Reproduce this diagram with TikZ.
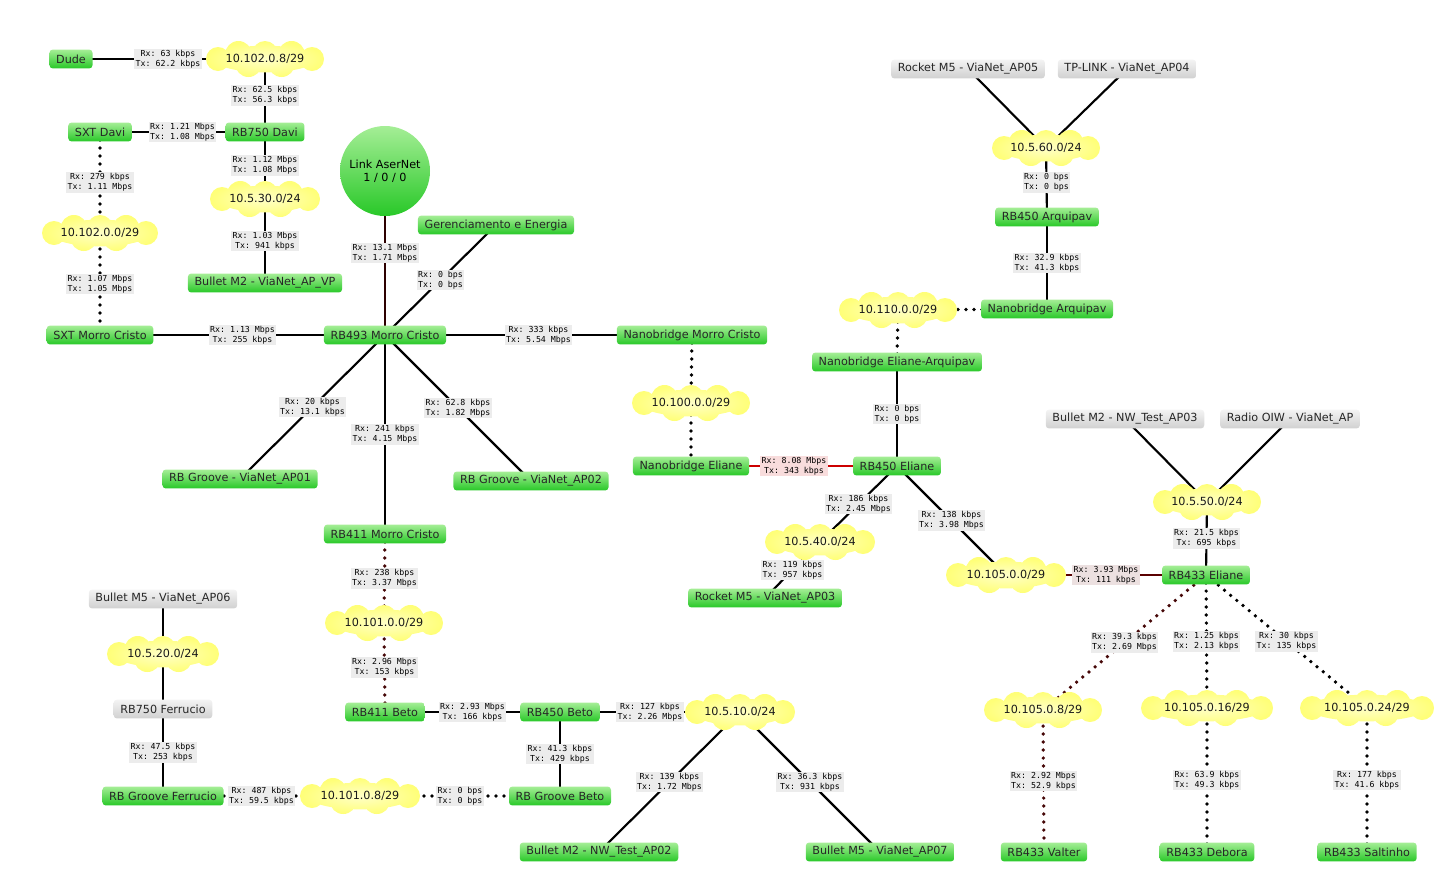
\documentclass[tikz,border=0pt]{standalone}
\usepackage{fontspec}
\setmainfont{DejaVu Sans}
\setmonofont{DejaVu Sans Mono}
\usetikzlibrary{backgrounds}

\definecolor{devtop}{RGB}{165,238,150}
\definecolor{devbot}{RGB}{40,200,40}
\definecolor{offtop}{RGB}{244,244,244}
\definecolor{offbot}{RGB}{208,208,208}
\definecolor{netin}{RGB}{255,255,200}
\definecolor{netout}{RGB}{255,255,120}
\definecolor{bwfill}{RGB}{236,236,236}
\definecolor{bwred}{RGB}{248,220,220}
\definecolor{bwdark}{RGB}{236,224,224}
\definecolor{hotred}{RGB}{204,0,0}
\definecolor{darkred}{RGB}{90,0,0}
\definecolor{brownish}{RGB}{70,8,8}
\definecolor{upl}{RGB}{45,0,0}

\newcommand\devfont{\fontsize{8.4}{10}\selectfont}
\newcommand\bwfont{\ttfamily\fontsize{6.2}{7.5}\selectfont}

% #1 name, #2 centre, #3 half width in px, #4 text
\newcommand\netnode[4]{%
  \pgfmathsetlengthmacro\netrad{0.75pt*#3}%
  \shade[inner color=netin,outer color=netout,shift={(#2)}]
    (0pt,0pt) ellipse[x radius=\netrad-6pt,y radius=10pt]
    ({-\netrad+9pt},0pt) circle[radius=9pt]
    ({\netrad-9pt},0pt) circle[radius=9pt]
    ({-0.45*\netrad},3.5pt) circle[radius=10pt]
    (0pt,4pt) circle[radius=9.5pt]
    ({0.45*\netrad},3.5pt) circle[radius=10pt]
    ({-0.28*\netrad},-3.5pt) circle[radius=10pt]
    ({0.28*\netrad},-3.5pt) circle[radius=10pt];
  \node[net] (#1) at (#2) {#4};}

\tikzset{
  dev/.style={rectangle,rounded corners=2.5pt,top color=devtop,bottom color=devbot,minimum height=14.2pt,inner xsep=5pt,inner ysep=0pt,text=black!85},
  devoff/.style={dev,top color=offtop,bottom color=offbot},
  net/.style={inner sep=2pt,text=black!90},
  bw/.style={fill=bwfill,text=black,font=\bwfont,align=center,inner xsep=1pt,inner ysep=0.8pt},
  wire/.style={line width=1.6pt},
  wlan/.style={line width=2.8pt,line cap=round,dash pattern=on 0pt off 6pt}
}

\begin{document}
\begin{tikzpicture}[x=0.75pt,y=-0.75pt,every node/.style={font=\devfont}]
  \useasboundingbox (0,0) rectangle (1437,868);

  \node[dev] (dude) at (71,59) {Dude};
  \netnode{n10208}{265,59}{59}{10.102.0.8/29}
  \node[dev] (rb750davi) at (265,132) {RB750 Davi};
  \node[dev] (sxtdavi) at (100,132) {SXT Davi};
  \netnode{n5300}{265,199}{55}{10.5.30.0/24}
  \node[dev] (bulletvp) at (265,283) {Bullet M2 - ViaNet\_AP\_VP};
  \netnode{n10200}{100,233}{58}{10.102.0.0/29}
  \node[dev] (sxtmc) at (100,335) {SXT Morro Cristo};

  \node[circle,minimum size=67.5pt,inner sep=0pt,align=center,top color=devtop,bottom color=devbot] (aser) at (385,171) {Link AserNet\\1 / 0 / 0};
  \node[dev] (rb493) at (385,335) {RB493 Morro Cristo};
  \node[dev] (gerenc) at (496,225) {Gerenciamento e Energia};
  \node[dev] (nbmc) at (692,335) {Nanobridge Morro Cristo};
  \node[dev] (ap01) at (240,479) {RB Groove - ViaNet\_AP01};
  \node[dev] (ap02) at (531,481) {RB Groove - ViaNet\_AP02};
  \node[dev] (rb411mc) at (385,534) {RB411 Morro Cristo};
  \netnode{n10100}{384,623}{59}{10.101.0.0/29}
  \node[dev] (rb411beto) at (385,712) {RB411 Beto};
  \node[dev] (rb450beto) at (560,712) {RB450 Beto};
  \netnode{n51010}{740,712}{55}{10.5.10.0/24}
  \node[dev] (groovebeto) at (560,796) {RB Groove Beto};
  \netnode{n10108}{360,796}{60}{10.101.0.8/29}
  \node[dev] (grooveferr) at (163,796) {RB Groove Ferrucio};
  \node[devoff] (rb750ferr) at (163,709) {RB750 Ferrucio};
  \netnode{n5200}{163,654}{56}{10.5.20.0/24}
  \node[devoff] (ap06) at (163,599) {Bullet M5 - ViaNet\_AP06};
  \node[dev] (ap02nw) at (599,852) {Bullet M2 - NW\_Test\_AP02};
  \node[dev] (ap07) at (880,852) {Bullet M5 - ViaNet\_AP07};

  \netnode{n10000}{691,403}{59}{10.100.0.0/29}
  \node[dev] (nbeliane) at (691,466) {Nanobridge Eliane};
  \node[dev] (rb450el) at (897,466) {RB450 Eliane};
  \node[dev] (nbea) at (897,362) {Nanobridge Eliane-Arquipav};
  \netnode{n11000}{898,310}{59}{10.110.0.0/29}
  \node[dev] (nbarq) at (1047,309) {Nanobridge Arquipav};
  \node[dev] (rb450arq) at (1047,217) {RB450 Arquipav};
  \netnode{n5600}{1046,148}{54}{10.5.60.0/24}
  \node[devoff] (ap05) at (968,69) {Rocket M5 - ViaNet\_AP05};
  \node[devoff] (ap04) at (1127,69) {TP-LINK - ViaNet\_AP04};
  \netnode{n5400}{820,542}{55}{10.5.40.0/24}
  \node[dev] (ap03) at (765,598) {Rocket M5 - ViaNet\_AP03};
  \netnode{n10500}{1006,575}{60}{10.105.0.0/29}

  \node[dev] (rb433el) at (1206,575) {RB433 Eliane};
  \netnode{n5500}{1207,502}{54}{10.5.50.0/24}
  \node[devoff] (ap03nw) at (1125,419) {Bullet M2 - NW\_Test\_AP03};
  \node[devoff] (radio) at (1290,419) {Radio OIW - ViaNet\_AP};
  \netnode{n10508}{1043,710}{59}{10.105.0.8/29}
  \netnode{n10516}{1207,708}{66}{10.105.0.16/29}
  \netnode{n10524}{1367,708}{67}{10.105.0.24/29}
  \node[dev] (valter) at (1044,852) {RB433 Valter};
  \node[dev] (debora) at (1207,852) {RB433 Debora};
  \node[dev] (saltinho) at (1367,852) {RB433 Saltinho};

  \begin{scope}[on background layer]
    \draw[wire] (dude.center) -- node[bw] {Rx: 63 kbps\\Tx: 62.2 kbps} (n10208.center);
    \draw[wire] (n10208.center) -- node[bw] {Rx: 62.5 kbps\\Tx: 56.3 kbps} (rb750davi.center);
    \draw[wire] (sxtdavi.center) -- node[bw] {Rx: 1.21 Mbps\\Tx: 1.08 Mbps} (rb750davi.center);
    \draw[wire] (rb750davi.center) -- node[bw] {Rx: 1.12 Mbps\\Tx: 1.08 Mbps} (n5300.center);
    \draw[wire] (n5300.center) -- node[bw] {Rx: 1.03 Mbps\\Tx: 941 kbps} (bulletvp.center);
    \draw[wlan] (sxtdavi.center) -- node[bw] {Rx: 279 kbps\\Tx: 1.11 Mbps} (n10200.center);
    \draw[wlan] (n10200.center) -- node[bw] {Rx: 1.07 Mbps\\Tx: 1.05 Mbps} (sxtmc.center);
    \draw[wire] (sxtmc.center) -- node[bw] {Rx: 1.13 Mbps\\Tx: 255 kbps} (rb493.center);

    \draw[wire,upl] (aser.center) -- node[bw] {Rx: 13.1 Mbps\\Tx: 1.71 Mbps} (rb493.center);
    \draw[wire] (rb493.center) -- node[bw] {Rx: 0 bps\\Tx: 0 bps} (gerenc.center);
    \draw[wire] (rb493.center) -- node[bw] {Rx: 333 kbps\\Tx: 5.54 Mbps} (nbmc.center);
    \draw[wire] (rb493.center) -- node[bw] {Rx: 20 kbps\\Tx: 13.1 kbps} (ap01.center);
    \draw[wire] (rb493.center) -- node[bw] {Rx: 241 kbps\\Tx: 4.15 Mbps} (rb411mc.center);
    \draw[wire] (rb493.center) -- node[bw] {Rx: 62.8 kbps\\Tx: 1.82 Mbps} (ap02.center);
    \draw[wlan,brownish] (rb411mc.center) -- node[bw] {Rx: 238 kbps\\Tx: 3.37 Mbps} (n10100.center);
    \draw[wlan,brownish] (n10100.center) -- node[bw] {Rx: 2.96 Mbps\\Tx: 153 kbps} (rb411beto.center);
    \draw[wire] (rb411beto.center) -- node[bw] {Rx: 2.93 Mbps\\Tx: 166 kbps} (rb450beto.center);
    \draw[wire] (rb450beto.center) -- node[bw] {Rx: 127 kbps\\Tx: 2.26 Mbps} (n51010.center);
    \draw[wire] (rb450beto.center) -- node[bw] {Rx: 41.3 kbps\\Tx: 429 kbps} (groovebeto.center);
    \draw[wlan] (groovebeto.center) -- node[bw] {Rx: 0 bps\\Tx: 0 bps} (n10108.center);
    \draw[wlan] (n10108.center) -- node[bw] {Rx: 487 kbps\\Tx: 59.5 kbps} (grooveferr.center);
    \draw[wire] (rb750ferr.center) -- node[bw] {Rx: 47.5 kbps\\Tx: 253 kbps} (grooveferr.center);
    \draw[wire] (ap06.center) -- (n5200.center) -- (rb750ferr.center);
    \draw[wire] (n51010.center) -- node[bw] {Rx: 139 kbps\\Tx: 1.72 Mbps} (ap02nw.center);
    \draw[wire] (n51010.center) -- node[bw] {Rx: 36.3 kbps\\Tx: 931 kbps} (ap07.center);

    \draw[wlan] (nbmc.center) -- (n10000.center) -- (nbeliane.center);
    \draw[wire,hotred] (nbeliane.center) -- node[bw,fill=bwred] {Rx: 8.08 Mbps\\Tx: 343 kbps} (rb450el.center);
    \draw[wire] (nbea.center) -- node[bw] {Rx: 0 bps\\Tx: 0 bps} (rb450el.center);
    \draw[wlan] (nbea.center) -- (n11000.center) -- (nbarq.center);
    \draw[wire] (nbarq.center) -- node[bw] {Rx: 32.9 kbps\\Tx: 41.3 kbps} (rb450arq.center);
    \draw[wire] (rb450arq.center) -- node[bw] {Rx: 0 bps\\Tx: 0 bps} (n5600.center);
    \draw[wire] (ap05.center) -- (n5600.center) -- (ap04.center);
    \draw[wire] (rb450el.center) -- node[bw] {Rx: 186 kbps\\Tx: 2.45 Mbps} (n5400.center);
    \draw[wire] (n5400.center) -- node[bw] {Rx: 119 kbps\\Tx: 957 kbps} (ap03.center);
    \draw[wire] (rb450el.center) -- node[bw] {Rx: 138 kbps\\Tx: 3.98 Mbps} (n10500.center);

    \draw[wire,darkred] (n10500.center) -- node[bw,fill=bwdark] {Rx: 3.93 Mbps\\Tx: 111 kbps} (rb433el.center);
    \draw[wire] (n5500.center) -- node[bw] {Rx: 21.5 kbps\\Tx: 695 kbps} (rb433el.center);
    \draw[wire] (ap03nw.center) -- (n5500.center) -- (radio.center);
    \draw[wlan,brownish] (rb433el.center) -- node[bw] {Rx: 39.3 kbps\\Tx: 2.69 Mbps} (n10508.center);
    \draw[wlan] (rb433el.center) -- node[bw] {Rx: 1.25 kbps\\Tx: 2.13 kbps} (n10516.center);
    \draw[wlan] (rb433el.center) -- node[bw] {Rx: 30 kbps\\Tx: 135 kbps} (n10524.center);
    \draw[wlan,brownish] (n10508.center) -- node[bw] {Rx: 2.92 Mbps\\Tx: 52.9 kbps} (valter.center);
    \draw[wlan] (n10516.center) -- node[bw] {Rx: 63.9 kbps\\Tx: 49.3 kbps} (debora.center);
    \draw[wlan] (n10524.center) -- node[bw] {Rx: 177 kbps\\Tx: 41.6 kbps} (saltinho.center);
  \end{scope}
\end{tikzpicture}
\end{document}
